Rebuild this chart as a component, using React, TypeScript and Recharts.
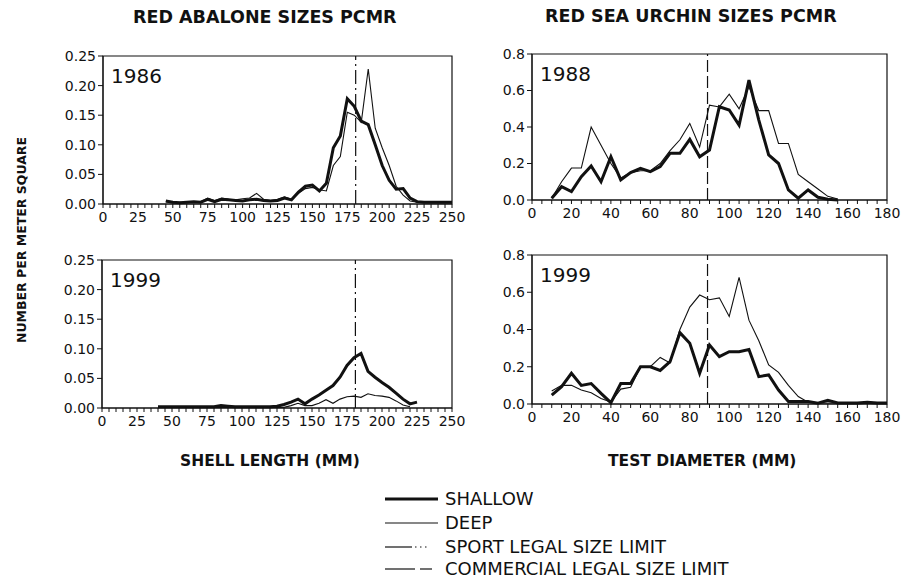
import React from "react";
import {
  LineChart,
  Line,
  XAxis,
  YAxis,
  ReferenceLine,
  ReferenceArea,
} from "recharts";

// shell length (mm) bins, red abalone
const abaloneLen1986 = [
  45, 50, 55, 60, 65, 70, 75, 80, 85, 90, 95, 100, 105, 110, 115, 120, 125, 130, 135, 140, 145,
  150, 155, 160, 165, 170, 175, 180, 185, 190, 195, 200, 205, 210, 215, 220, 225, 230, 235, 240,
  245, 250,
];
const abaloneShallow1986 = [
  0.005, 0.003, 0.002, 0.003, 0.004, 0.003, 0.008, 0.004, 0.008, 0.007, 0.006, 0.005, 0.007,
  0.008, 0.006, 0.005, 0.006, 0.01, 0.007, 0.02, 0.03, 0.032, 0.022, 0.035, 0.095, 0.115, 0.178,
  0.165, 0.14, 0.134, 0.1, 0.065, 0.04, 0.025, 0.026, 0.01, 0.004, 0.003, 0.003, 0.003, 0.003,
  0.003,
];
const abaloneDeep1986 = [
  0.004, 0.002, 0.003, 0.002, 0.003, 0.004, 0.01, 0.006, 0.01, 0.008, 0.007, 0.009, 0.01, 0.018,
  0.008, 0.006, 0.008, 0.012, 0.008, 0.018, 0.026, 0.028, 0.024, 0.022, 0.065, 0.08, 0.155, 0.15,
  0.138, 0.228, 0.128, 0.095, 0.065, 0.03, 0.015, 0.005, 0.003, 0.002, 0.002, 0.002, 0.002,
  0.002,
];

const abaloneLen1999 = [
  40, 45, 50, 55, 60, 65, 70, 75, 80, 85, 90, 95, 100, 105, 110, 115, 120, 125, 130, 135, 140,
  145, 150, 155, 160, 165, 170, 175, 180, 185, 190, 195, 200, 205, 210, 215, 220, 225,
];
const abaloneShallow1999 = [
  0.002, 0.002, 0.002, 0.002, 0.002, 0.002, 0.002, 0.002, 0.002, 0.004, 0.003, 0.002, 0.002,
  0.002, 0.002, 0.002, 0.002, 0.003, 0.006, 0.01, 0.015, 0.007, 0.015, 0.022, 0.03, 0.038, 0.052,
  0.072, 0.085, 0.092, 0.062, 0.052, 0.043, 0.035, 0.025, 0.015, 0.007, 0.01,
];
const abaloneDeep1999 = [
  0.001, 0.001, 0.001, 0.001, 0.001, 0.001, 0.001, 0.001, 0.001, 0.001, 0.001, 0.001, 0.001,
  0.001, 0.001, 0.001, 0.001, 0.001, 0.001, 0.004, 0.008, 0.004, 0.004, 0.008, 0.014, 0.008,
  0.015, 0.019, 0.02, 0.018, 0.024, 0.021, 0.02, 0.018, 0.012, 0.005, 0.002, null,
];

// test diameter (mm) bins, red sea urchin
const urchinDiam1988 = [
  10, 15, 20, 25, 30, 35, 40, 45, 50, 55, 60, 65, 70, 75, 80, 85, 90, 95, 100, 105, 110, 115, 120,
  125, 130, 135, 140, 145, 150, 155,
];
const urchinShallow1988 = [
  0.01, 0.073, 0.046, 0.128, 0.186, 0.1, 0.237, 0.11, 0.15, 0.173, 0.155, 0.183, 0.256, 0.256,
  0.332, 0.237, 0.274, 0.511, 0.493, 0.41, 0.657, 0.438, 0.247, 0.2, 0.055, 0.01, 0.055, 0.015,
  0.004, 0.0,
];
const urchinDeep1988 = [
  0.01, 0.1, 0.175, 0.175, 0.4, 0.3, 0.2, 0.12, 0.15, 0.16, 0.16, 0.2, 0.27, 0.33, 0.42, 0.29,
  0.52, 0.51, 0.58, 0.5, 0.62, 0.49, 0.49, 0.31, 0.31, 0.14, 0.1, 0.06, 0.02, 0.005,
];

const urchinDiam1999 = [
  10, 15, 20, 25, 30, 35, 40, 45, 50, 55, 60, 65, 70, 75, 80, 85, 90, 95, 100, 105, 110, 115, 120,
  125, 130, 135, 140, 145, 150, 155, 160, 165, 170, 175, 180,
];
const urchinShallow1999 = [
  0.048, 0.093, 0.165, 0.1, 0.11, 0.057, 0.007, 0.11, 0.11, 0.2, 0.2, 0.18, 0.227, 0.383, 0.326,
  0.165, 0.317, 0.254, 0.281, 0.281, 0.293, 0.147, 0.156, 0.075, 0.013, 0.013, 0.013, 0.004, 0.02,
  0.006, 0.005, 0.005, 0.01, 0.005, 0.005,
];
const urchinDeep1999 = [
  0.07, 0.1, 0.1, 0.075, 0.06, 0.03, 0.01, 0.08, 0.09, 0.2, 0.2, 0.25, 0.22, 0.4, 0.52, 0.585,
  0.56, 0.57, 0.47, 0.68, 0.45, 0.34, 0.21, 0.17, 0.1, 0.04, 0.01, 0.005, 0.005, 0.005, 0.005,
  0.005, 0.005, 0.005, 0.005,
];

const abaloneTicks = [0, 25, 50, 75, 100, 125, 150, 175, 200, 225, 250];
const urchinTicks = [0, 20, 40, 60, 80, 100, 120, 140, 160, 180];
const abaloneYTicks = [0, 0.05, 0.1, 0.15, 0.2, 0.25];
const urchinYTicks = [0, 0.2, 0.4, 0.6, 0.8];

const SPORT_LIMIT = 181;
const COMMERCIAL_LIMIT = 89;

const INK = "#111";
const FONT = "'DejaVu Sans', sans-serif";

const steps = (max: number) => Array.from({ length: max / 5 + 1 }, (_, i) => i * 5);

const rows = (xs: number[], shallow: (number | null)[], deep: (number | null)[]) =>
  xs.map((x, i) => ({ x, shallow: shallow[i], deep: deep[i] }));

const MinorTick = (labels: number[]) => (props: any) => {
  const { x, y, payload } = props;
  if (!labels.includes(payload.value)) return <g />;
  return (
    <text x={x} y={y + 12} textAnchor="middle" fontSize={14} fontFamily={FONT} fill={INK}>
      {payload.value}
    </text>
  );
};

interface PanelProps {
  data: { x: number; shallow: number | null; deep: number | null }[];
  left: number;
  top: number;
  width: number;
  height: number;
  marginLeft: number;
  marginRight: number;
  xMax: number;
  yMax: number;
  xLabels: number[];
  yTicks: number[];
  yDigits: number;
  limit: number;
  limitDash: string;
  year: string;
}

const Panel: React.FC<PanelProps> = (p) => (
  <div style={{ position: "absolute", left: p.left, top: p.top }}>
    <LineChart
      width={p.width}
      height={p.height}
      data={p.data}
      margin={{ top: 16, right: p.marginRight, bottom: 1, left: p.marginLeft }}
    >
      <XAxis
        dataKey="x"
        type="number"
        domain={[0, p.xMax]}
        ticks={steps(p.xMax)}
        interval={0}
        tick={MinorTick(p.xLabels)}
        tickSize={4}
        height={25}
        stroke={INK}
        allowDataOverflow
      />
      <YAxis
        type="number"
        domain={[0, p.yMax]}
        ticks={p.yTicks}
        interval={0}
        width={50}
        tickSize={5}
        stroke={INK}
        tick={{ fontSize: 14, fontFamily: FONT, fill: INK }}
        tickFormatter={(v: number) => v.toFixed(p.yDigits)}
      />
      <ReferenceArea
        x1={0}
        x2={p.xMax}
        y1={0}
        y2={p.yMax}
        fill="none"
        stroke={INK}
        strokeWidth={1.2}
      />
      <ReferenceLine x={p.limit} stroke={INK} strokeWidth={1.2} strokeDasharray={p.limitDash} />
      <Line
        dataKey="deep"
        stroke={INK}
        strokeWidth={1.1}
        dot={false}
        isAnimationActive={false}
        connectNulls={false}
      />
      <Line
        dataKey="shallow"
        stroke={INK}
        strokeWidth={3}
        dot={false}
        isAnimationActive={false}
        connectNulls={false}
      />
    </LineChart>
    <div
      style={{
        position: "absolute",
        left: p.marginLeft + 58,
        top: 24,
        fontFamily: FONT,
        fontSize: 20,
        color: INK,
      }}
    >
      {p.year}
    </div>
  </div>
);

const LegendRow: React.FC<{ y: number; label: string; children: React.ReactNode }> = ({
  y,
  label,
  children,
}) => (
  <div style={{ position: "absolute", left: 383, top: y - 11, height: 22, display: "flex" }}>
    <svg width={55} height={22}>
      {children}
    </svg>
    <span
      style={{ marginLeft: 7, fontFamily: FONT, fontSize: 18, lineHeight: "22px", color: INK }}
    >
      {label}
    </span>
  </div>
);

export default function App() {
  const bold = { fontFamily: FONT, fontWeight: "bold" as const, color: INK, position: "absolute" as const };
  return (
    <div
      style={{
        position: "absolute",
        left: 0,
        top: 0,
        width: 901,
        height: 582,
        background: "#fff",
        overflow: "hidden",
      }}
    >
      <div style={{ ...bold, left: 133, top: 7, fontSize: 17.5, whiteSpace: "nowrap" }}>
        RED ABALONE SIZES PCMR
      </div>
      <div style={{ ...bold, left: 545, top: 6, fontSize: 17.5, whiteSpace: "nowrap" }}>
        RED SEA URCHIN SIZES PCMR
      </div>
      <div
        style={{
          ...bold,
          left: 21,
          top: 240,
          fontSize: 12.5,
          whiteSpace: "nowrap",
          transform: "translate(-50%, -50%) rotate(-90deg)",
        }}
      >
        NUMBER PER METER SQUARE
      </div>

      <Panel
        data={rows(abaloneLen1986, abaloneShallow1986, abaloneDeep1986)}
        left={40}
        top={40}
        width={427}
        height={190}
        marginLeft={13}
        marginRight={15}
        xMax={250}
        yMax={0.25}
        xLabels={abaloneTicks}
        yTicks={abaloneYTicks}
        yDigits={2}
        limit={SPORT_LIMIT}
        limitDash="14 4 2 4"
        year="1986"
      />
      <Panel
        data={rows(urchinDiam1988, urchinShallow1988, urchinDeep1988)}
        left={470}
        top={38}
        width={431}
        height={188}
        marginLeft={12}
        marginRight={14}
        xMax={180}
        yMax={0.8}
        xLabels={urchinTicks}
        yTicks={urchinYTicks}
        yDigits={1}
        limit={COMMERCIAL_LIMIT}
        limitDash="12 4"
        year="1988"
      />
      <Panel
        data={rows(abaloneLen1999, abaloneShallow1999, abaloneDeep1999)}
        left={40}
        top={244}
        width={427}
        height={190}
        marginLeft={12}
        marginRight={15}
        xMax={250}
        yMax={0.25}
        xLabels={abaloneTicks}
        yTicks={abaloneYTicks}
        yDigits={2}
        limit={SPORT_LIMIT}
        limitDash="14 4 2 4"
        year="1999"
      />
      <Panel
        data={rows(urchinDiam1999, urchinShallow1999, urchinDeep1999)}
        left={470}
        top={239}
        width={431}
        height={191}
        marginLeft={12}
        marginRight={14}
        xMax={180}
        yMax={0.8}
        xLabels={urchinTicks}
        yTicks={urchinYTicks}
        yDigits={1}
        limit={COMMERCIAL_LIMIT}
        limitDash="12 4"
        year="1999"
      />

      <div style={{ ...bold, left: 180, top: 452, fontSize: 15.5, whiteSpace: "nowrap" }}>
        SHELL LENGTH (MM)
      </div>
      <div style={{ ...bold, left: 608, top: 452, fontSize: 15.5, whiteSpace: "nowrap" }}>
        TEST DIAMETER (MM)
      </div>

      <LegendRow y={499} label="SHALLOW">
        <line x1={2} x2={57} y1={11} y2={11} stroke={INK} strokeWidth={3} />
      </LegendRow>
      <LegendRow y={523} label="DEEP">
        <line x1={2} x2={55} y1={11} y2={11} stroke={INK} strokeWidth={1.2} />
      </LegendRow>
      <LegendRow y={547} label="SPORT LEGAL SIZE LIMIT">
        <line x1={2} x2={29} y1={11} y2={11} stroke={INK} strokeWidth={1.2} />
        <line x1={32} x2={46} y1={11} y2={11} stroke={INK} strokeWidth={1.2} strokeDasharray="1.5 3.5" />
      </LegendRow>
      <LegendRow y={569} label="COMMERCIAL LEGAL SIZE LIMIT">
        <line x1={2} x2={32} y1={11} y2={11} stroke={INK} strokeWidth={1.2} />
        <line x1={37} x2={49} y1={11} y2={11} stroke={INK} strokeWidth={1.2} />
      </LegendRow>
    </div>
  );
}
